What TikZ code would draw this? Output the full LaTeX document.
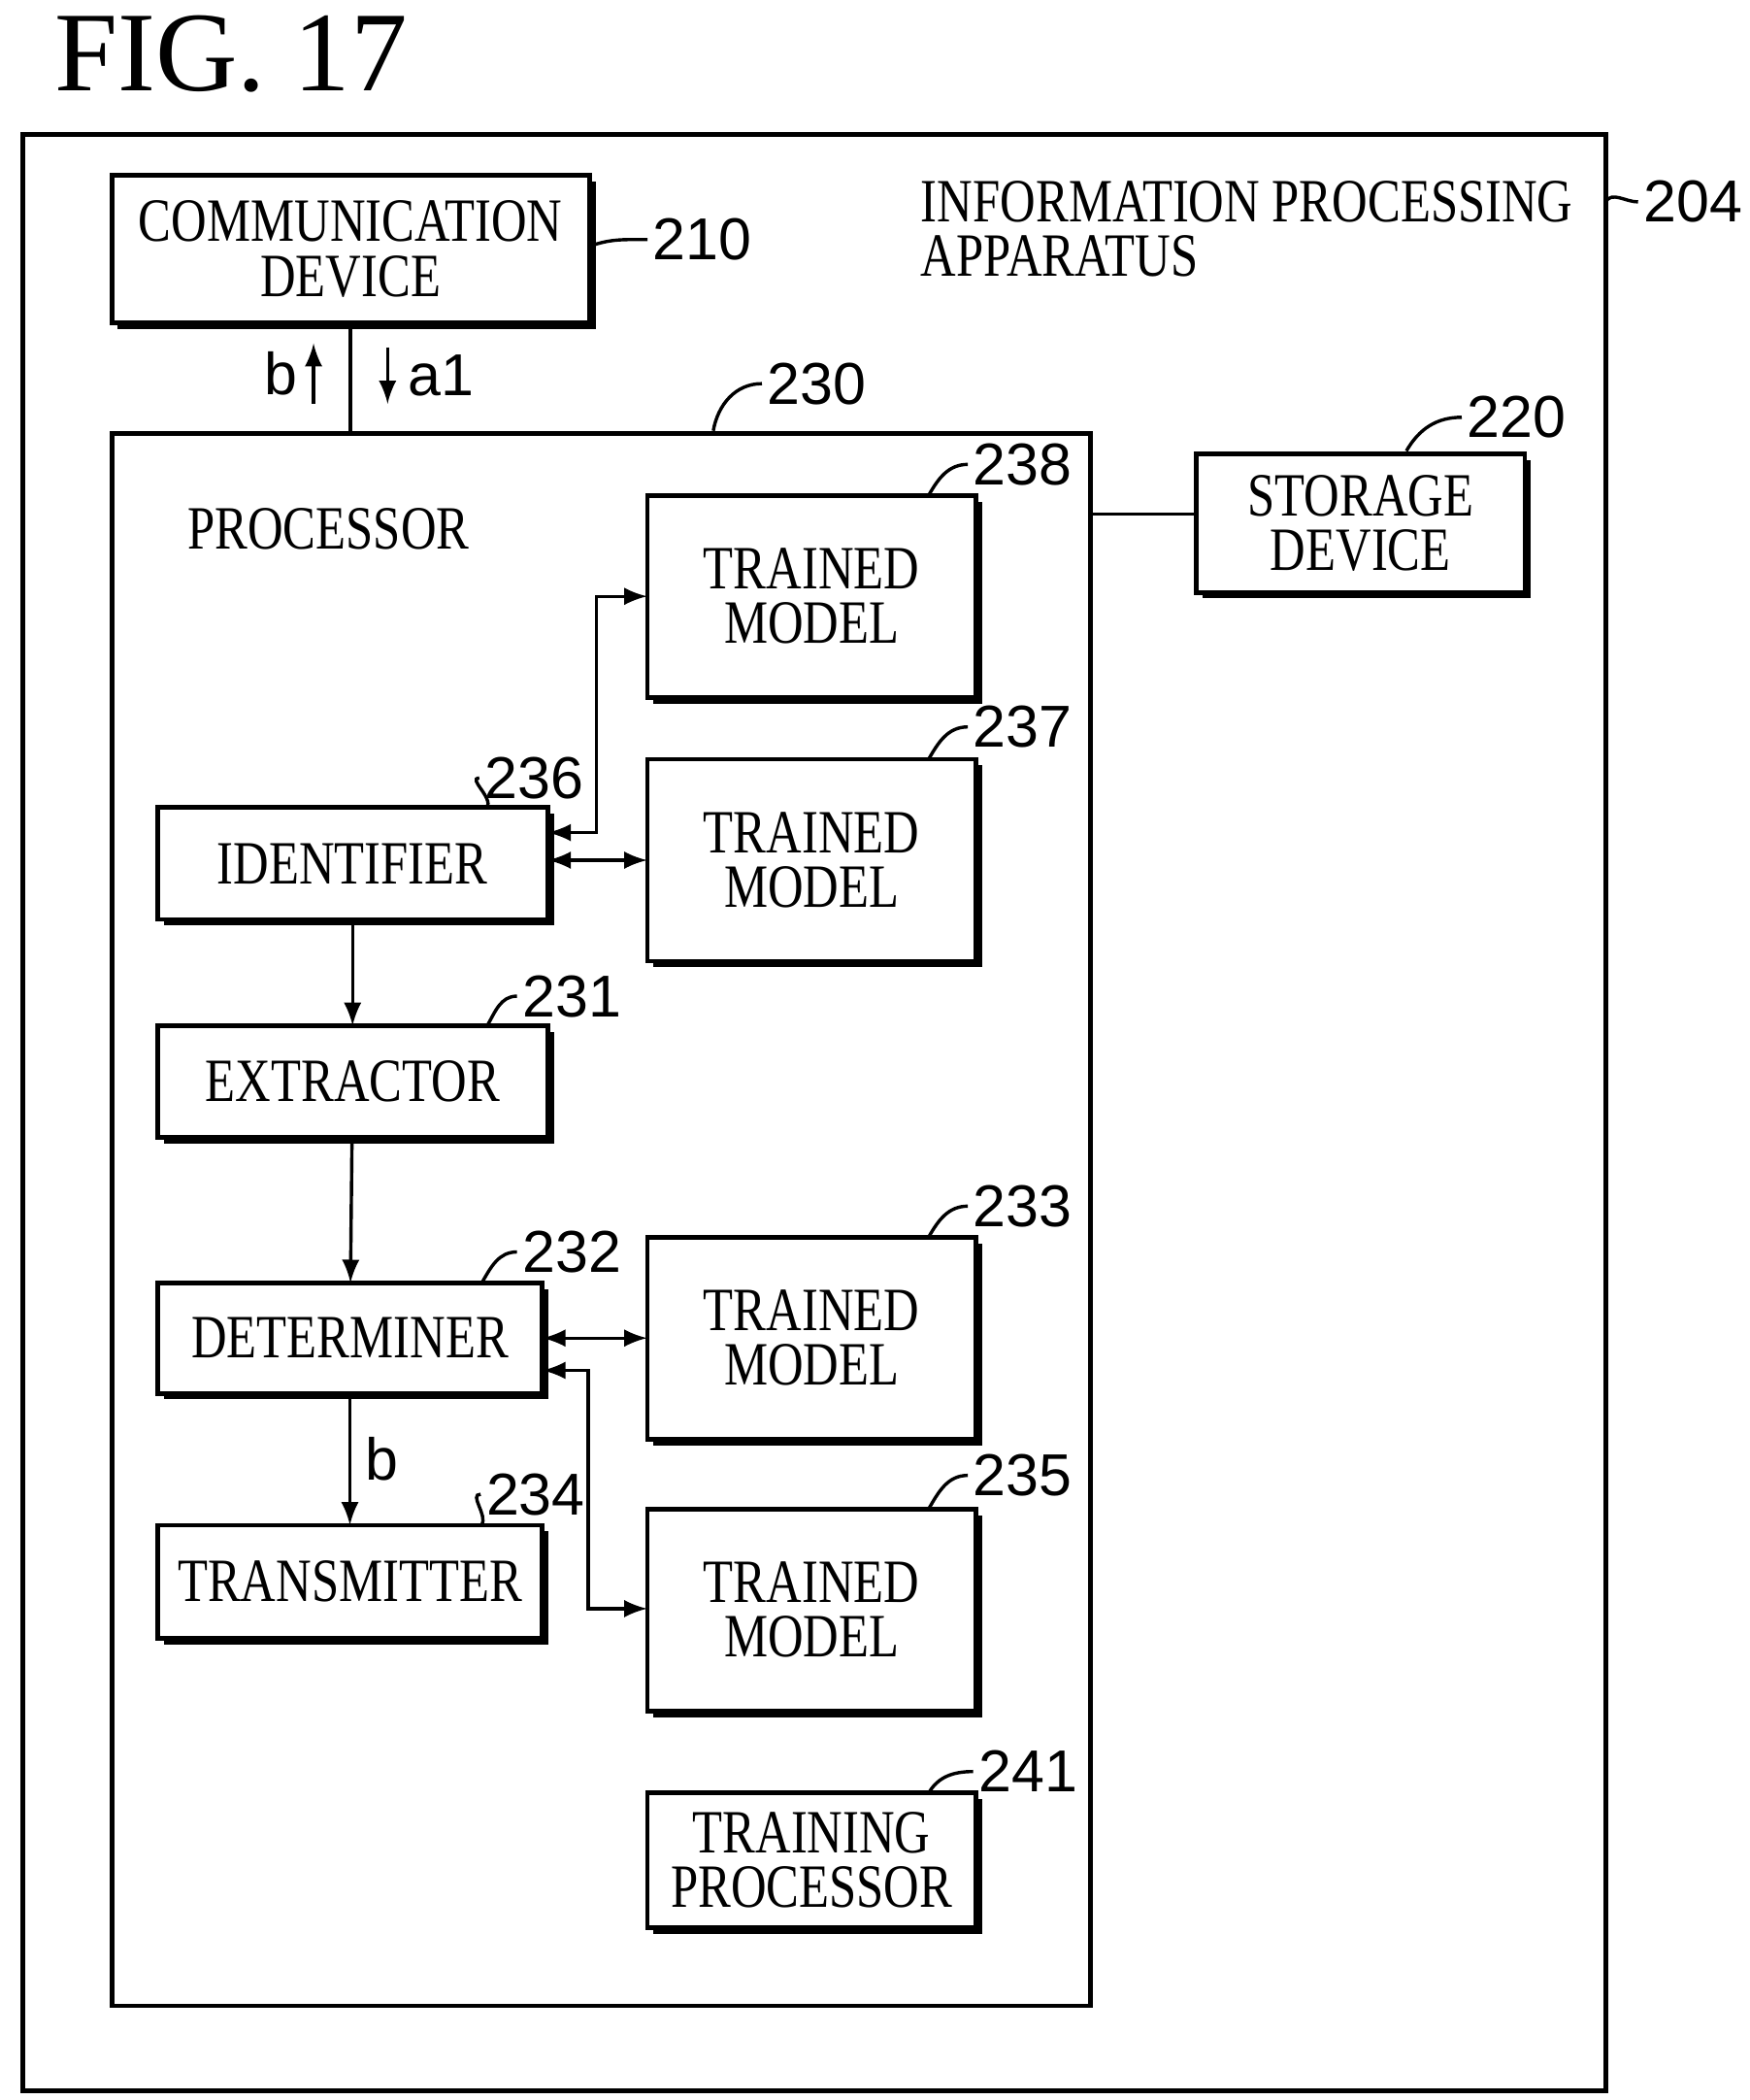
\documentclass[tikz,border=0pt]{standalone}
\usepackage{fontspec}
\setmainfont{Liberation Serif}
\newfontfamily\numfont{Liberation Sans}
\newfontfamily\boxfont[FakeStretch=0.8]{Liberation Serif}
\usetikzlibrary{arrows,positioning,shadows}

\begin{document}
\begin{tikzpicture} [
    >=latex,
    box/.style={draw, fill=white, line width=1pt,%
      outer sep=0,%
      align=center, inner sep=0,%
      font=\boxfont\fontsize{13}{11.5}\selectfont,%
      drop shadow={shadow xshift=1.3pt, shadow yshift=-1.3pt, opacity=1, fill=black}},
    frame/.style={draw, line width=1pt, outer sep=0, inner sep=0},
    num/.style={font=\numfont\fontsize{12.5}{12.5}\selectfont, inner sep=1pt},
    lead/.style={line width=0.7pt},
    link/.style={line width=0.7pt}
    ]
    \useasboundingbox (0,0) rectangle (13,-15.6);
    \node[anchor=west, font=\fontsize{24}{24}\selectfont] (fig) at (0.28,-0.4) {FIG. 17};

    % frames
    \node[frame, minimum width=11.76cm, minimum height=14.53cm] (app) at (6.05,-8.265) {};
    \node[frame, minimum width=7.27cm, minimum height=11.68cm] (proc) at (4.465,-9.06) {};
    \node[anchor=north west, align=left, font=\boxfont\fontsize{13}{11.5}\selectfont] (appname) at (6.72,-1.22) {INFORMATION PROCESSING\\APPARATUS};
    \node[anchor=west, font=\boxfont\fontsize{13}{13}\selectfont] (procname) at (1.27,-3.93) {PROCESSOR};

    % blocks
    \node[box, minimum width=3.55cm, minimum height=1.1cm] (comm) at (2.605,-1.85) {COMMUNICATION\\DEVICE};
    \node[box, minimum width=2.44cm, minimum height=1.03cm] (store) at (10.11,-3.885) {STORAGE\\DEVICE};
    \foreach \name/\y in {tm238/-4.43,tm237/-6.39,tm233/-9.94,tm235/-11.96}
        \node[box, minimum width=2.44cm, minimum height=1.5cm] (\name) at (6.03,\y) {TRAINED\\MODEL};
    \node[box, minimum width=2.44cm, minimum height=1.0cm] (train) at (6.03,-13.82) {TRAINING\\PROCESSOR};
    \node[box, minimum width=2.9cm, minimum height=0.83cm] (ident) at (2.62,-6.415) {IDENTIFIER};
    \node[box, minimum width=2.9cm, minimum height=0.83cm] (extr) at (2.62,-8.035) {EXTRACTOR};
    \node[box, minimum width=2.86cm, minimum height=0.82cm] (det) at (2.60,-9.94) {DETERMINER};
    \node[box, minimum width=2.86cm, minimum height=0.84cm] (trans) at (2.60,-11.75) {TRANSMITTER};

    % reference numbers
    \foreach \name/\pos/\txt in {n204/{12.58,-1.5}/204, n210/{5.22,-1.78}/210, n230/{6.07,-2.85}/230,
        n220/{11.27,-3.1}/220, n238/{7.6,-3.45}/238, n237/{7.6,-5.4}/237, n236/{3.97,-5.78}/236,
        n231/{4.25,-7.4}/231, n232/{4.25,-9.3}/232, n233/{7.6,-8.96}/233, n234/{3.98,-11.1}/234,
        n235/{7.6,-10.96}/235, n241/{7.64,-13.16}/241}
        \node[num] (\name) at (\pos) {\txt};

    % leaders
    \draw[lead] (app.east |- n204.west) to[out=60,in=180] (n204.west);
    \draw[lead] (comm.east |- n210.west) ++(0,-0.05) to[out=20,in=180] (n210.west);
    \draw[lead] (5.3,-3.2) to[out=80,in=180] (n230.west);
    \draw[lead] (10.45,-3.35) to[out=60,in=180] (n220.west);
    \foreach \n/\b in {n238/tm238,n237/tm237,n233/tm233,n235/tm235,n241/train}
        \draw[lead] (\b.north east) ++(-0.35,0) to[out=60,in=180] (\n.west);
    \foreach \n/\b in {n236/ident,n231/extr,n232/det,n234/trans}
        \draw[lead] (\b.north east) ++(-0.45,0) to[out=60,in=180] (\n.west);

    % connectors
    \draw[link] (comm.south) -- (comm.south |- proc.north);
    \coordinate (bs) at (2.33,-3.0);
    \coordinate (as) at (2.88,-2.58);
    \draw[link,->] (bs) -- +(0,0.45) node[pos=0.5, left=2pt, num] (lb) {b};
    \draw[link,->] (as) -- +(0,-0.42) node[pos=0.5, right=3pt, num] (la) {a1};
    \draw[link] (store.west |- 0,-3.82) -- (proc.east |- 0,-3.82);
    \draw[link,<->] ([yshift=0.23cm]ident.east) -| (4.43,-4.43) -- (tm238.west);
    \draw[link,<->] (ident.east |- tm237.west) -- (tm237.west);
    \draw[link,->] (ident) -- (extr);
    \draw[link,->] (extr) -- (det);
    \draw[link,<->] (det.east) -- (tm233.west);
    \draw[link,<->] ([yshift=-0.24cm]det.east) -| (4.37,-11.95) -- (tm235.west |- 0,-11.95);
    \draw[link,->] (det) -- (trans) node[pos=0.5, right=2pt, num] (lb2) {b};
\end{tikzpicture}
\end{document}
